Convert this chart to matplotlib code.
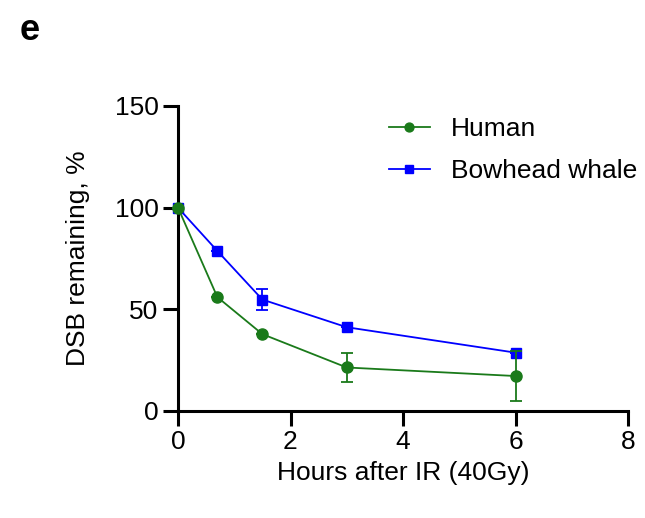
import matplotlib
matplotlib.use("Agg")
import matplotlib.pyplot as plt

plt.rcParams['font.family'] = ['Liberation Sans', 'DejaVu Sans']

hours = [0, 0.7, 1.5, 3, 6]
human = [100, 56, 37.8, 21.4, 17.2]
human_err = [0, 0, 0, 6.9, 12.4]
whale = [100, 78.7, 54.8, 41.2, 28.7]
whale_err = [0, 0, 5.0, 0, 0]

fig = plt.figure(figsize=(6.45, 5.18), dpi=100)
ax = fig.add_axes([178/645, 1-411/518, (628-178)/645, (411-106)/518])

e1 = ax.errorbar(hours, human, yerr=human_err, color='#1a7a1a', marker='o', markersize=8,
                 lw=1.3, capsize=4.5, elinewidth=1.3, capthick=1.3, label='Human', zorder=3)
e2 = ax.errorbar(hours, whale, yerr=whale_err, color='#0000ff', marker='s', markersize=7.5,
                 lw=1.3, capsize=4.5, elinewidth=1.3, capthick=1.3, label='Bowhead whale', zorder=2)

ax.set_xlim(0, 8)
ax.set_ylim(0, 150)
ax.set_xticks([0, 2, 4, 6, 8])
ax.set_yticks([0, 50, 100, 150])
for s in ['top', 'right']:
    ax.spines[s].set_visible(False)
for s in ['left', 'bottom']:
    ax.spines[s].set_linewidth(2.2)
ax.tick_params(axis='both', width=2.2, length=11, labelsize=19, pad=3)
ax.set_xlabel('Hours after IR (40Gy)', fontsize=19, labelpad=5)
ax.set_ylabel('DSB remaining, %', fontsize=19, labelpad=18)
for art in ax.get_children():
    try:
        art.set_clip_on(False)
    except Exception:
        pass

h1 = e1.lines[0]
h2 = e2.lines[0]
leg = ax.legend([h1, h2], ['Human', 'Bowhead whale'], loc='upper left',
                bbox_to_anchor=(389/645, 1-117/518), bbox_transform=fig.transFigure,
                frameon=False, fontsize=19, handlelength=1.55, handletextpad=0.8,
                labelspacing=0.7, markerscale=0.8, borderpad=0, borderaxespad=0)

fig.text(20/645, 1-31/518, 'e', fontsize=26, fontweight='bold', va='center', ha='left')

fig.savefig('out.png', dpi=100)
